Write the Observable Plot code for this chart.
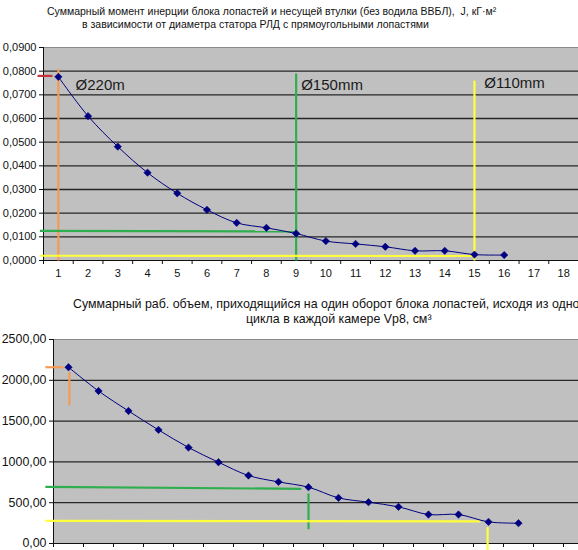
<!DOCTYPE html>
<html><head><meta charset="utf-8">
<script src="https://cdn.jsdelivr.net/npm/d3@7"></script>
<script src="https://cdn.jsdelivr.net/npm/@observablehq/plot@0.6"></script>
<style>
html,body{margin:0;padding:0;background:#fff;overflow:hidden;}
#wrap{position:relative;width:578px;height:550px;overflow:hidden;font-family:"Liberation Sans",Arial,sans-serif;}
.t{position:absolute;white-space:nowrap;color:#111;}
.t1{font-size:10.5px;line-height:13px;}
.t2{font-size:12.4px;line-height:15px;}
#top,#bot{position:absolute;left:0;}
#top{top:0;} #bot{top:290px;}
svg{max-width:none !important;}
</style></head><body>
<div id="wrap">
  <div class="t t1" style="left:47px;top:5px;">Суммарный момент инерции блока лопастей и несущей втулки (без водила ВВБЛ),&nbsp; J, кГ·м²</div>
  <div class="t t1" style="left:82px;top:18px;">в зависимости от диаметра статора РЛД с прямоугольными лопастями</div>
  <div class="t t2" style="left:73px;top:297px;">Суммарный раб. объем, приходящийся на один оборот блока лопастей, исходя из одного</div>
  <div class="t t2" style="left:246px;top:312px;">цикла в каждой камере Vp8, см³</div>
  <div id="top"></div>
  <div id="bot"></div>
</div>
<script>
const categories = [1,2,3,4,5,6,7,8,9,10,11,12,13,14,15,16,17,18];
const tickBounds = [0.5,1.5,2.5,3.5,4.5,5.5,6.5,7.5,8.5,9.5,10.5,11.5,12.5,13.5,14.5,15.5,16.5,17.5,18.5];
const inertiaX = [1,2,3,4,5,6,7,8,9,10,11,12,13,14,15,16];
const inertia = [0.0776,0.0610,0.0481,0.0371,0.0284,0.0214,0.0159,0.0138,0.0114,0.0082,0.0070,0.0058,0.0041,0.0041,0.0025,0.0023];
const volume = [2160,1869,1624,1392,1176,996,833,755,690,559,506,449,355,355,265,249];
const inertiaTicks = [0,0.01,0.02,0.03,0.04,0.05,0.06,0.07,0.08,0.09];
const volumeTicks = [0,500,1000,1500,2000,2500];

const RED = "#c8323a", ORANGE = "#f59a55", GREEN = "#2fae4e", YELLOW = "#ffff3c", NAVY = "#000080";

const topGuides = [
  {x1:0.30,x2:0.80,y1:0.0780,y2:0.0780,c:RED},
  {x1:1,x2:1,y1:0,y2:0.0810,c:ORANGE},
  {x1:0.38,x2:9,y1:0.0125,y2:0.0123,c:GREEN},
  {x1:9,x2:9,y1:0,y2:0.0790,c:GREEN},
  {x1:0.38,x2:15,y1:0.0020,y2:0.0019,c:YELLOW},
  {x1:15,x2:15,y1:0,y2:0.0760,c:YELLOW}
];
const topLabels = [
  {x:1.58,y:0.0741,text:"Ø220m"},
  {x:9.17,y:0.0741,text:"Ø150mm"},
  {x:15.33,y:0.0751,text:"Ø110mm"}
];
const botGuides = [
  {x1:0.23,x2:0.83,y1:2160,y2:2160,c:ORANGE},
  {x1:1.03,x2:1.03,y1:1694,y2:2102,c:ORANGE},
  {x1:0.23,x2:8.76,y1:694,y2:670,c:GREEN},
  {x1:9,x2:9,y1:175,y2:614,c:GREEN},
  {x1:0.23,x2:14.73,y1:277,y2:270,c:YELLOW},
  {x1:14.97,x2:14.97,y1:-120,y2:200,c:YELLOW}
];

const topData = inertiaX.map((x,i)=>({x, y: inertia[i]}));
const botData = inertiaX.map((x,i)=>({x, y: volume[i]}));

function chart({data, yDomain, yTicks, yFmt, guides, labels, width, height, mt, mb, ml, fs, showX}) {
  return Plot.plot({
    width, height, marginTop: mt, marginBottom: mb, marginLeft: ml, marginRight: 0,
    style: {fontFamily: '"Liberation Sans", Arial, sans-serif', fontSize: fs, color: "#111", background: "transparent"},
    x: {domain: [0.5, 18.5]},
    y: {domain: yDomain},
    marks: [
      Plot.frame({fill: "#c0c0c0", stroke: "#8a8a8a"}),
      Plot.gridY(yTicks.slice(1, -1), {stroke: "#262626", strokeOpacity: 1, strokeWidth: 1.3}),
      Plot.axisY({ticks: yTicks, tickFormat: yFmt, tickSize: 4, tickPadding: 3, label: null, stroke: "#111"}),
      Plot.axisX({ticks: tickBounds, tickFormat: () => "", tickSize: 4, label: null, stroke: "#111"}),
      ...(showX ? [Plot.axisX({ticks: categories, tickSize: 0, tickPadding: 9, label: null, tickFormat: d => String(d)})] : []),
      Plot.frame({anchor: "left", stroke: "#111"}),
      Plot.frame({anchor: "bottom", stroke: "#111"}),
      Plot.link(guides, {x1: "x1", x2: "x2", y1: "y1", y2: "y2", stroke: "c", strokeWidth: 2.2, clip: false}),
      Plot.line(data, {x: "x", y: "y", stroke: NAVY, strokeWidth: 1, curve: "catmull-rom"}),
      Plot.dot(data, {x: "x", y: "y", symbol: "diamond2", fill: NAVY, stroke: NAVY, strokeWidth: 0.6, r: 3.3}),
      ...(labels ? [Plot.text(labels, {x: "x", y: "y", text: "text", textAnchor: "start", fontSize: 15, fill: "#1a1a1a"})] : [])
    ]
  });
}

document.getElementById("top").append(chart({
  data: topData, yDomain: [0, 0.09], yTicks: inertiaTicks,
  yFmt: d => d.toFixed(4).replace(".", ","),
  guides: topGuides, labels: topLabels,
  width: 578, height: 290, mt: 47, mb: 30, ml: 43, fs: "11px", showX: true
}));
document.getElementById("bot").append(chart({
  data: botData, yDomain: [0, 2500], yTicks: volumeTicks,
  yFmt: d => d.toFixed(2).replace(".", ","),
  guides: botGuides, labels: null,
  width: 593, height: 270, mt: 49, mb: 17, ml: 53, fs: "12.4px", showX: false
}));
</script>
</body></html>
